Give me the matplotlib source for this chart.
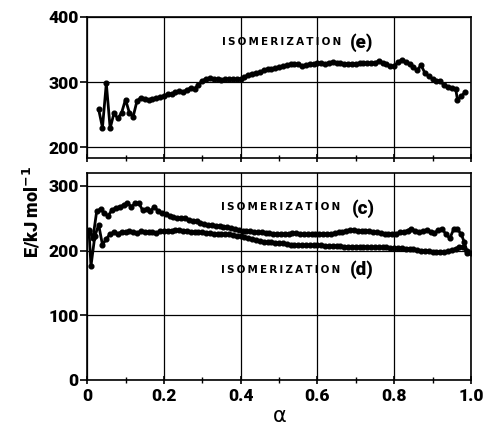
import matplotlib.pyplot as plt
from matplotlib.ticker import MultipleLocator

# %% DATA
# isomerization (e), top panel
alpha_e = [0.03, 0.04, 0.05, 0.06, 0.07, 0.08, 0.09, 0.10, 0.11, 0.12,
           0.13, 0.14, 0.15, 0.16, 0.17, 0.18, 0.19, 0.20, 0.21, 0.22,
           0.23, 0.24, 0.25, 0.26, 0.27, 0.28, 0.29, 0.30, 0.31, 0.32,
           0.33, 0.34, 0.35, 0.36, 0.37, 0.38, 0.39, 0.40, 0.41, 0.42,
           0.43, 0.44, 0.45, 0.46, 0.47, 0.48, 0.49, 0.50, 0.51, 0.52,
           0.53, 0.54, 0.55, 0.56, 0.57, 0.58, 0.59, 0.60, 0.61, 0.62,
           0.63, 0.64, 0.65, 0.66, 0.67, 0.68, 0.69, 0.70, 0.71, 0.72,
           0.73, 0.74, 0.75, 0.76, 0.77, 0.78, 0.79, 0.80, 0.81, 0.82,
           0.83, 0.84, 0.85, 0.86, 0.87, 0.88, 0.89, 0.90, 0.91, 0.92,
           0.93, 0.94, 0.95, 0.96, 0.965, 0.975, 0.985]
E_e = [258, 230, 298, 229, 252, 244, 253, 273, 253, 247,
       271, 276, 274, 273, 274, 276, 277, 278, 282, 281,
       284, 286, 285, 288, 291, 290, 296, 302, 305, 306,
       304, 304, 303, 304, 304, 305, 304, 305, 308, 311,
       313, 314, 315, 318, 320, 320, 321, 323, 324, 326,
       327, 328, 327, 325, 326, 328, 327, 330, 329, 327,
       330, 331, 329, 329, 328, 328, 328, 328, 329, 329,
       329, 329, 330, 332, 330, 327, 324, 324, 331, 334,
       331, 328, 323, 318, 326, 314, 309, 305, 302, 302,
       295, 292, 291, 290, 273, 278, 285]

# isomerization (c), bottom panel upper curve
alpha_c = [0.005, 0.015, 0.025, 0.035, 0.045, 0.055, 0.065, 0.075, 0.085, 0.095,
           0.105, 0.115, 0.125, 0.135, 0.145, 0.155, 0.165, 0.175, 0.185, 0.195,
           0.205, 0.215, 0.225, 0.235, 0.245, 0.255, 0.265, 0.275, 0.285, 0.295,
           0.305, 0.315, 0.325, 0.335, 0.345, 0.355, 0.365, 0.375, 0.385, 0.395,
           0.405, 0.415, 0.425, 0.435, 0.445, 0.455, 0.465, 0.475, 0.485, 0.495,
           0.505, 0.515, 0.525, 0.535, 0.545, 0.555, 0.565, 0.575, 0.585, 0.595,
           0.605, 0.615, 0.625, 0.635, 0.645, 0.655, 0.665, 0.675, 0.685, 0.695,
           0.705, 0.715, 0.725, 0.735, 0.745, 0.755, 0.765, 0.775, 0.785, 0.795,
           0.805, 0.815, 0.825, 0.835, 0.845, 0.855, 0.865, 0.875, 0.885, 0.895,
           0.905, 0.915, 0.925, 0.935, 0.945, 0.955, 0.965, 0.975, 0.982, 0.99]
E_c = [232, 219, 261, 264, 258, 254, 263, 266, 268, 270,
       274, 268, 273, 273, 262, 264, 261, 268, 261, 258,
       256, 254, 252, 250, 251, 250, 248, 246, 245, 243,
       241, 240, 239, 238, 238, 237, 236, 235, 234, 232,
       231, 230, 230, 229, 228, 228, 227, 227, 226, 226,
       225, 226, 226, 227, 227, 226, 225, 225, 225, 226,
       226, 226, 226, 226, 227, 228, 229, 231, 232, 232,
       231, 230, 230, 230, 229, 228, 227, 226, 226, 226,
       226, 228, 229, 231, 234, 230, 228, 230, 232, 229,
       227, 232, 234, 225, 219, 233, 233, 225, 214, 199]

# isomerization (d), bottom panel lower curve
alpha_d = [0.005, 0.01, 0.02, 0.03, 0.04, 0.05, 0.06, 0.07, 0.08, 0.09,
           0.10, 0.11, 0.12, 0.13, 0.14, 0.15, 0.16, 0.17, 0.18, 0.19,
           0.20, 0.21, 0.22, 0.23, 0.24, 0.25, 0.26, 0.27, 0.28, 0.29,
           0.30, 0.31, 0.32, 0.33, 0.34, 0.35, 0.36, 0.37, 0.38, 0.39,
           0.40, 0.41, 0.42, 0.43, 0.44, 0.45, 0.46, 0.47, 0.48, 0.49,
           0.50, 0.51, 0.52, 0.53, 0.54, 0.55, 0.56, 0.57, 0.58, 0.59,
           0.60, 0.61, 0.62, 0.63, 0.64, 0.65, 0.66, 0.67, 0.68, 0.69,
           0.70, 0.71, 0.72, 0.73, 0.74, 0.75, 0.76, 0.77, 0.78, 0.79,
           0.80, 0.81, 0.82, 0.83, 0.84, 0.85, 0.86, 0.87, 0.88, 0.89,
           0.90, 0.91, 0.92, 0.93, 0.94, 0.95, 0.96, 0.97, 0.98, 0.99, 1.0]
E_d = [230, 176, 222, 240, 209, 218, 226, 228, 226, 229,
       228, 230, 229, 227, 230, 228, 229, 229, 227, 230,
       230, 231, 231, 232, 232, 231, 230, 229, 229, 228,
       228, 227, 227, 226, 226, 226, 225, 225, 224, 223,
       222, 221, 219, 218, 216, 215, 214, 213, 213, 212,
       212, 211, 210, 209, 209, 208, 208, 208, 208, 208,
       208, 208, 207, 207, 207, 207, 207, 206, 206, 206,
       206, 206, 206, 205, 205, 205, 205, 205, 205, 204,
       204, 204, 204, 203, 203, 202, 201, 200, 200, 199,
       198, 198, 198, 198, 199, 201, 203, 206, 205, 197, 196]

x_ticks = [0, 0.2, 0.4, 0.6, 0.8, 1.0]
x_ticklabels = ["0", "0.2", "0.4", "0.6", "0.8", "1.0"]
top_yticks = [200, 300, 400]
bot_yticks = [0, 100, 200, 300]

# %% STYLE
narrow = ["Roboto", "DejaVu Sans"]
plt.rcParams["font.family"] = narrow
plt.rcParams["font.weight"] = "black"

fig = plt.figure(figsize=(4.84, 4.24), dpi=100)
ax_top = fig.add_axes([0.180, 0.627, 0.793, 0.333])
ax_bot = fig.add_axes([0.180, 0.104, 0.793, 0.488])

line_kw = dict(color="black", marker="o", markersize=3.4, linewidth=2.0)

ax_top.plot(alpha_e, E_e, **line_kw)
ax_bot.plot(alpha_c, E_c, **line_kw)
ax_bot.plot(alpha_d, E_d, **line_kw)

for ax in (ax_top, ax_bot):
    ax.set_xlim(0, 1.0)
    ax.set_xticks(x_ticks)
    ax.xaxis.set_minor_locator(MultipleLocator(0.1))
    ax.grid(True, which="major", color="black", linewidth=0.9)
    ax.tick_params(axis="y", direction="out", length=5, width=1.2,
                   labelsize=12.5, pad=1)
    ax.tick_params(axis="x", which="major", direction="inout", length=6,
                   width=1.2, labelsize=12.5, pad=3)
    ax.tick_params(axis="x", which="minor", direction="inout", length=4,
                   width=1.0)
    for sp in ax.spines.values():
        sp.set_linewidth(1.2)

ax_top.set_ylim(183, 400)
ax_top.set_yticks(top_yticks)
ax_top.tick_params(axis="x", labelbottom=False)

ax_bot.set_ylim(0, 320)
ax_bot.set_yticks(bot_yticks)
ax_bot.set_xticklabels(x_ticklabels)

# Annotations
wide = ["DejaVu Sans"]
iso = "\u2009".join("ISOMERIZATION")
ax_top.text(0.508, 361, iso, ha="center", va="center",
            fontsize=7.5, family=wide, fontweight="bold")
ax_top.text(0.716, 361, "(e)", ha="center", va="center", fontsize=13.5)
ax_bot.text(0.503, 268, iso, ha="center", va="center",
            fontsize=7.5, family=wide, fontweight="bold")
ax_bot.text(0.719, 265, "(c)", ha="center", va="center", fontsize=13.5)
ax_bot.text(0.503, 170, iso, ha="center", va="center",
            fontsize=7.5, family=wide, fontweight="bold")
ax_bot.text(0.716, 170, "(d)", ha="center", va="center", fontsize=13.5)

fig.text(0.066, 0.50, r"E/kJ mol$^{\mathbf{-1}}$", rotation=90,
         ha="center", va="center", fontsize=13)
fig.text(0.577, 0.02, "\u03b1", ha="center", va="center", fontsize=15,
         fontweight="normal", family=wide)

fig.savefig("out.png", dpi=100)
